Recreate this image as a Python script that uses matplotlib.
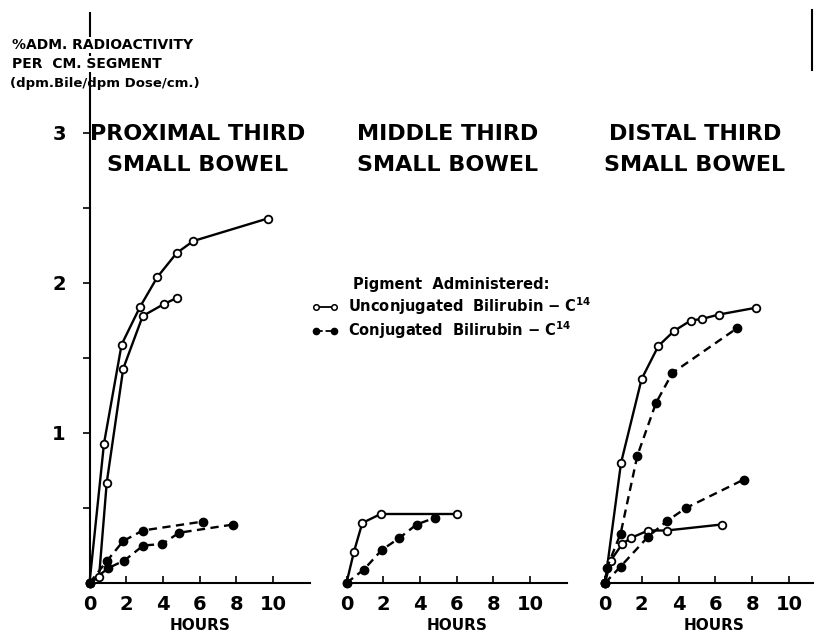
import matplotlib
matplotlib.use('Agg')
import matplotlib.pyplot as plt
from matplotlib.lines import Line2D

plt.rcParams['font.family'] = ['DejaVu Sans']
plt.rcParams['font.weight'] = 'bold'

# hours / % administered radioactivity per cm
# proximal third
prox_unc1_x = [0, 0.79, 1.75, 2.75, 3.7, 4.75, 5.66, 9.71]
prox_unc1_y = [0, 0.93, 1.59, 1.84, 2.04, 2.20, 2.28, 2.43]
prox_unc2_x = [0, 0.52, 0.94, 1.84, 2.9, 4.06, 4.75]
prox_unc2_y = [0, 0.04, 0.67, 1.43, 1.78, 1.86, 1.90]
prox_con1_x = [0, 0.97, 1.84, 2.9, 6.2]
prox_con1_y = [0, 0.15, 0.28, 0.35, 0.41]
prox_con2_x = [0, 1.03, 1.9, 2.93, 3.97, 4.88, 7.84]
prox_con2_y = [0, 0.10, 0.15, 0.25, 0.26, 0.335, 0.39]
# middle third
mid_unc_x = [0, 0.41, 0.86, 1.86, 6.04]
mid_unc_y = [0, 0.21, 0.40, 0.46, 0.46]
mid_con_x = [0, 0.95, 1.92, 2.88, 3.82, 4.82]
mid_con_y = [0, 0.09, 0.22, 0.30, 0.39, 0.435]
# distal third
dist_unc1_x = [0, 0.87, 1.99, 2.9, 3.75, 4.66, 5.25, 6.2, 8.2]
dist_unc1_y = [0, 0.80, 1.36, 1.58, 1.68, 1.75, 1.76, 1.79, 1.835]
dist_unc2_x = [0, 0.31, 0.94, 1.4, 2.35, 3.35, 6.34]
dist_unc2_y = [0, 0.15, 0.26, 0.30, 0.35, 0.35, 0.39]
dist_con1_x = [0, 0.1, 0.85, 1.76, 2.77, 3.66, 7.19]
dist_con1_y = [0, 0.10, 0.33, 0.85, 1.20, 1.40, 1.70]
dist_con2_x = [0, 0.85, 2.35, 3.39, 4.4, 7.55]
dist_con2_y = [0, 0.11, 0.31, 0.415, 0.50, 0.69]

xticks = [0, 2, 4, 6, 8, 10]
yticks_major = [1, 2, 3]
yticks_minor = [0.5, 1.5, 2.5]

W, H = 814, 637
fig = plt.figure(figsize=(W / 100, H / 100), dpi=100)


def panel(x0, ppx, y0, ppy, xmax, ymax, yaxis):
    ax = fig.add_axes([x0 / W, (H - y0) / H, xmax * ppx / W, ymax * ppy / H])
    ax.set_xlim(0, xmax)
    ax.set_ylim(0, ymax)
    for s in ['top', 'right']:
        ax.spines[s].set_visible(False)
    ax.spines['bottom'].set_linewidth(1.5)
    ax.spines['left'].set_linewidth(1.5)
    ax.spines['left'].set_visible(yaxis)
    ax.set_xticks(xticks)
    ax.set_xticklabels([str(t) for t in xticks], fontsize=14, fontweight='bold')
    ax.tick_params(axis='x', direction='in', length=5, width=1.2, pad=9)
    if yaxis:
        ax.set_yticks(yticks_major)
        ax.set_yticks(yticks_minor, minor=True)
        ax.set_yticklabels([str(t) for t in yticks_major], fontsize=14, fontweight='bold')
        ax.tick_params(axis='y', which='both', direction='out', length=5, width=1.2, pad=12)
    else:
        ax.set_yticks([])
    ax.patch.set_alpha(0)
    return ax


def unc(ax, x, y):
    ax.plot(x, y, '-', color='k', lw=1.7, marker='o', ms=5.5, mfc='white',
            mec='k', mew=1.3, clip_on=False, zorder=3)


def con(ax, x, y):
    ax.plot(x, y, '--', color='k', lw=1.7, dashes=(3.5, 2.3), marker='o', ms=6,
            mfc='k', mec='k', clip_on=False, zorder=3)


ax1 = panel(89.5, 18.35, 583, 150, 12, 3.8, True)
unc(ax1, prox_unc1_x, prox_unc1_y)
unc(ax1, prox_unc2_x, prox_unc2_y)
con(ax1, prox_con1_x, prox_con1_y)
con(ax1, prox_con2_x, prox_con2_y)

ax2 = panel(346.5, 18.35, 583, 150, 12, 3.8, False)
unc(ax2, mid_unc_x, mid_unc_y)
con(ax2, mid_con_x, mid_con_y)

ax3 = panel(605, 18.4, 583, 150, 12, 3.8, False)
unc(ax3, dist_unc1_x, dist_unc1_y)
unc(ax3, dist_unc2_x, dist_unc2_y)
con(ax3, dist_con1_x, dist_con1_y)
con(ax3, dist_con2_x, dist_con2_y)

# panel titles and x labels
for cx, name, hx in [(198, 'PROXIMAL THIRD', 200), (448, 'MIDDLE THIRD', 457), (695, 'DISTAL THIRD', 714)]:
    fig.text(cx / W, 1 - 134 / H, name, ha='center', va='center', fontsize=16, fontweight='bold')
    fig.text(cx / W, 1 - 165 / H, 'SMALL BOWEL', ha='center', va='center', fontsize=16, fontweight='bold')
    fig.text(hx / W, 1 - 626 / H, 'HOURS', ha='center', va='center', fontsize=11, fontweight='bold')

# y axis label block
fig.text(12 / W, 1 - 45 / H, '%ADM. RADIOACTIVITY', ha='left', va='center', fontsize=10,
         fontweight='bold', bbox=dict(fc='white', ec='none', pad=0.5))
fig.text(12 / W, 1 - 64 / H, 'PER  CM. SEGMENT', ha='left', va='center', fontsize=10,
         fontweight='bold', bbox=dict(fc='white', ec='none', pad=0.5))
fig.text(10 / W, 1 - 84 / H, '(dpm.Bile/dpm Dose/cm.)', ha='left', va='center', fontsize=9.5,
         fontweight='bold')

# legend
handles = [Line2D([], [], color='k', lw=1.3, marker='o', ms=4, mfc='white', mew=1.1),
           Line2D([], [], color='k', lw=1.3, ls='--', marker='o', ms=4.5, mfc='k')]
labels = ['Unconjugated  Bilirubin $-$ C$^{14}$', 'Conjugated  Bilirubin $-$ C$^{14}$']
leg = fig.legend(handles, labels, title='Pigment  Administered:', loc='upper left',
                 bbox_to_anchor=(298 / W, 1 - 264 / H), numpoints=2, frameon=False,
                 handlelength=1.9, handletextpad=0.6, labelspacing=0.2,
                 prop={'size': 10.5, 'weight': 'bold'})
leg.get_title().set_fontsize(10.5)
leg.get_title().set_fontweight('bold')

# scan mark at top right edge
fig.add_artist(Line2D([812 / W, 812 / W], [1 - 10 / H, 1 - 70 / H], color='k', lw=1.5))

fig.savefig('out.png', dpi=100)
